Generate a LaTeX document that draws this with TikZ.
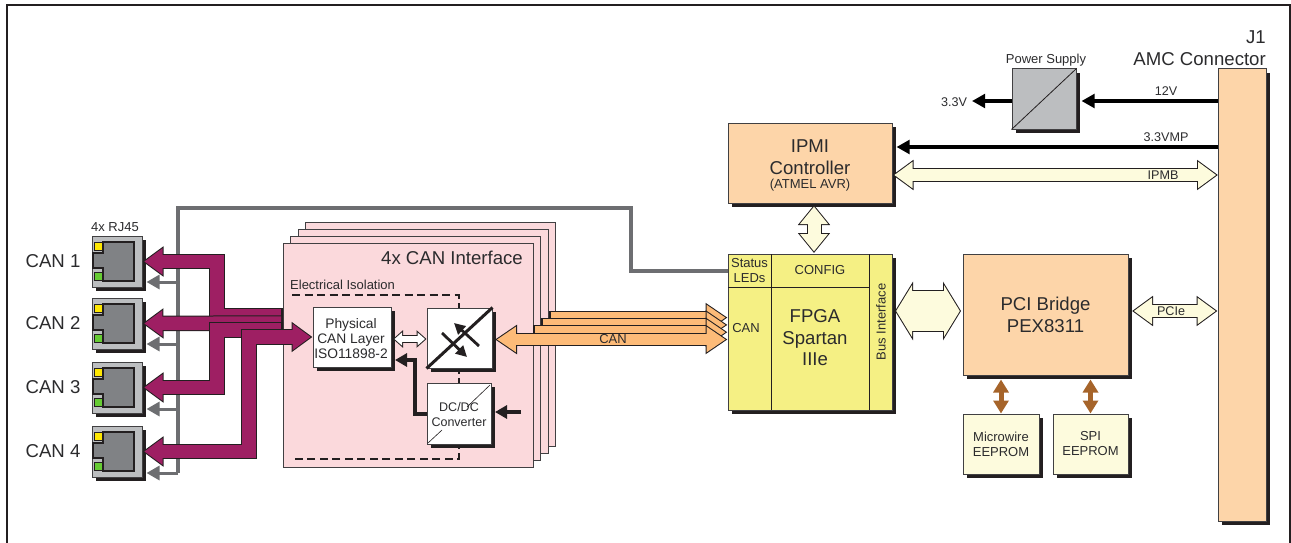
\documentclass[tikz,border=0pt]{standalone}
\usepackage{fontspec}
\setmainfont{Liberation Sans}
\usetikzlibrary{arrows.meta,shadows}

\definecolor{edgegray}{HTML}{414042}
\definecolor{inktext}{HTML}{2B2B2D}
\definecolor{shadowblack}{HTML}{231F20}
\definecolor{canplum}{HTML}{9E1F63}
\definecolor{canorange}{HTML}{FDBB78}
\definecolor{peach}{HTML}{FDD5A9}
\definecolor{cream}{HTML}{FDFBDD}
\definecolor{fpgayellow}{HTML}{F5F084}
\definecolor{cardpink}{HTML}{FBD9DC}
\definecolor{linegray}{HTML}{6D6E71}
\definecolor{jackgray}{HTML}{BCBEC0}
\definecolor{porthole}{HTML}{808285}
\definecolor{brownbus}{HTML}{A6642A}

\tikzset{
    box/.style={draw=edgegray,line width=1pt,text=inktext,align=center,inner sep=0pt,
        general shadow={fill=shadowblack,shadow xshift=4pt,shadow yshift=-4pt}},
    txt/.style={text=inktext,align=center,inner sep=0pt,font=\fontsize{13}{15}\selectfont},
    smalltxt/.style={txt,font=\fontsize{12.6}{15}\selectfont},
    bigtxt/.style={text=inktext,align=center,inner sep=0pt,font=\fontsize{18.6}{21.5}\selectfont},
    fat/.style n args={6}{
        preaction={draw=shadowblack,line width=#2pt+2pt,>={#3},arrows={#5},shorten <=0pt,shorten >=0pt},
        draw=#1,line width=#2pt,>={#4},arrows={#5},shorten <=#6pt,shorten >=#6pt},
    plumbus/.style={fat={canplum}{13.5}{Triangle[length=21pt,width=29pt]}{Triangle[length=18.2pt,width=25.2pt]}{#1}{1.8}},
    orangebus/.style={fat={canorange}{11.5}{Triangle[length=22pt,width=28pt]}{Triangle[length=19pt,width=24.2pt]}{#1}{1.9}},
    creambus/.style={fat={cream}{12}{Triangle[length=21pt,width=29pt]}{Triangle[length=18.2pt,width=25.2pt]}{#1}{1.8}},
    power/.style={draw=black,line width=4pt,-{Triangle[length=13pt,width=13.5pt]}},
    ledline/.style={draw=linegray,line width=3.5pt},
    brownlink/.style={draw=brownbus,line width=5pt,{Triangle[length=13pt,width=15pt]}-{Triangle[length=13pt,width=15pt]}}
}

\begin{document}
\begin{tikzpicture}[x=1pt,y=-1pt]
    \useasboundingbox (0,0) rectangle (1291,543);
    \draw[draw=shadowblack,line width=2pt] (7,543) -- (7,5) -- (1290,5) -- (1290,543);

    \foreach \n/\dx in {4/22.5,3/15,2/7.5,1/0} {
        \node[draw=edgegray,line width=1pt,fill=cardpink,minimum width=250pt,minimum height=224pt,inner sep=0pt] (card\n) at (408+\dx,355-0.93*\dx) {};
    }
    \node[bigtxt,anchor=east] (cardtitle) at (523,258) {4x CAN Interface};
    \node[txt,anchor=west] (isolabel) at (290,285) {Electrical Isolation};
    \draw[draw=shadowblack,line width=1.4pt,dash pattern=on 8pt off 4.5pt] (292,295) -- (459,295) -- (459,459) -- (295,459);

    \node[txt] (rjlabel) at (115,227) {4x RJ45};
    \foreach \n/\y in {1/261.5,2/323.5,3/387.5,4/451.5} {
        \node[draw=edgegray,line width=1pt,fill=jackgray,minimum width=50pt,minimum height=51pt,inner sep=0pt,
            general shadow={fill=shadowblack,shadow xshift=4pt,shadow yshift=-4pt}] (rj\n) at (117,\y) {};
        \node[bigtxt] (canname\n) at (53,\y) {CAN \n};
        \begin{scope}[shift={(0,\y)}]
            \draw[draw=shadowblack,line width=1.3pt,fill=porthole] (103,-19.5) -- (134,-19.5) -- (134,19.5) -- (103,19.5) -- (103,6.5) -- (93,6.5) -- (93,-8.5) -- (103,-8.5) -- cycle;
            \draw[draw=shadowblack,line width=.6pt,fill=yellow!90!orange] (94.5,-19.5) rectangle (102,-11.5);
            \draw[draw=shadowblack,line width=.6pt,fill=green!50!olive!80!white] (94.5,10.5) rectangle (102,18.5);
        \end{scope}
    }

    \node[box,fill=peach,minimum width=164pt,minimum height=80pt] (ipmi) at (810,163) {};
    \node[bigtxt] (ipmitext) at (810,157) {IPMI\\Controller};
    \node[txt] (ipmisub) at (810,185) {(ATMEL AVR)};

    \node[box,fill=fpgayellow,minimum width=164pt,minimum height=156pt] (fpga) at (810,332) {};
    \draw[draw=shadowblack,line width=.9pt] (771,254) -- (771,410);
    \draw[draw=shadowblack,line width=.9pt] (869,254) -- (869,410);
    \draw[draw=shadowblack,line width=.9pt] (728,287) -- (869,287);
    \node[txt] (statustext) at (749.5,270.5) {Status\\LEDs};
    \node[txt] (configtext) at (820,270.5) {CONFIG};
    \node[txt] (fpgacan) at (746,328) {CAN};
    \node[bigtxt] (fpgatext) at (815,338) {FPGA\\Spartan\\IIIe};
    \node[txt,rotate=90] (bustext) at (881,322) {Bus Interface};

    \node[box,fill=peach,minimum width=165pt,minimum height=121pt,font=\fontsize{18.6}{22}\selectfont] (pci) at (1045.5,314.5) {PCI Bridge\\PEX8311};
    \node[box,fill=cream,minimum width=76pt,minimum height=60pt,font=\fontsize{13}{15}\selectfont] (micro) at (1001,444) {Microwire\\EEPROM};
    \node[box,fill=cream,minimum width=75pt,minimum height=60pt,font=\fontsize{13}{15}\selectfont] (spi) at (1090.5,444) {SPI\\EEPROM};
    \node[box,fill=peach,minimum width=48pt,minimum height=452pt] (amc) at (1242,295) {};
    \node[bigtxt,align=right,anchor=south east] (amctext) at (1266,65.5) {J1\\AMC Connector};
    \node[box,fill=jackgray,minimum width=64pt,minimum height=60pt] (psu) at (1044,99) {};
    \draw[draw=shadowblack,line width=.8pt] (psu.south west) -- (psu.north east);
    \node[txt] (psutext) at (1046,60.5) {Power Supply};

    \node[box,fill=white,minimum width=78pt,minimum height=60pt] (phy) at (352,337) {};
    \node[txt,font=\fontsize{13.8}{15}\selectfont] (phytext) at (351,339) {Physical\\CAN Layer\\ISO11898-2};
    \node[box,fill=white,minimum width=65pt,minimum height=60pt] (iso) at (459.5,338) {};
    \draw[draw=shadowblack,line width=3pt] (iso.south west) -- (iso.north east);
    \coordinate (isoa) at (479,346);
    \coordinate (isob) at (454,323);
    \coordinate (isoc) at (442,333);
    \coordinate (isod) at (467,357);
    \draw[draw=shadowblack,line width=2.8pt,-{Triangle[length=11pt,width=11pt]}] (isoa) -- (isob);
    \draw[draw=shadowblack,line width=2.8pt,-{Triangle[length=11pt,width=11pt]}] (isoc) -- (isod);
    \node[box,fill=white,minimum width=64pt,minimum height=61pt] (dcdc) at (459,413.5) {};
    \draw[draw=shadowblack,line width=.6pt] (490,385) -- (467,407);
    \draw[draw=shadowblack,line width=.6pt] (428,443) -- (442,430);
    \node[txt,font=\fontsize{12.5}{15}\selectfont] (dcdctext) at (459,414.5) {DC/DC\\Converter};

    \coordinate (ledend) at (178,473);
    \draw[ledline] (fpga.west |- 0,271) -- (631,271) -- (631,208) -- (178,208) -- (ledend);
    \foreach \n/\y in {1/282,2/344,3/409,4/473} {
        \coordinate (led\n) at (178,\y);
        \draw[ledline,line width=3pt,shorten >=4pt,-{Triangle[length=13pt,width=14pt]}] (led\n) -- (rj\n.east |- led\n);
    }

    \coordinate (bunda) at (283,316);
    \coordinate (bundb) at (283,323);
    \coordinate (bundc) at (283,330);
    \draw[plumbus=<-] (rj1.east) -- (217,261.5) -- (217,316) -- (bunda);
    \draw[plumbus=<-] (rj2.east) -- (bundb);
    \draw[plumbus=<-] (rj3.east) -- (217,387.5) -- (217,330) -- (bundc);
    \draw[plumbus=<->] (rj4.east) -- (249,451.5) -- (249,337) -- (phy.west);

    \coordinate (orangea) at (549,317.6);
    \coordinate (orangeb) at (541,324.9);
    \coordinate (orangec) at (533,332.2);
    \coordinate (isotip) at (495,339.5);
    \draw[orangebus=->] (orangea) -- (fpga.west |- orangea);
    \draw[orangebus=->] (orangeb) -- (fpga.west |- orangeb);
    \draw[orangebus=->] (orangec) -- (fpga.west |- orangec);
    \draw[orangebus=<->] (isotip) -- (fpga.west |- isotip);
    \node[txt] (canbuslabel) at (613,339.5) {CAN};

    \draw[fat={white}{6}{Triangle[length=10pt,width=17pt]}{Triangle[length=7.5pt,width=12.7pt]}{<->}{1.5}] (393,339) -- (iso.west |- 0,339);
    \coordinate (dcin) at (459,414);
    \draw[draw=shadowblack,line width=3.5pt,-{Triangle[length=12pt,width=13pt]}] (dcdc.west |- dcin) -- (415,414) -- (415,360) -- (395,360);
    \coordinate (dcsrc) at (521,412);
    \draw[draw=shadowblack,line width=3.5pt,-{Triangle[length=12pt,width=13pt]}] (dcsrc) -- (495,412);

    \coordinate (twelve) at (1218,101);
    \coordinate (mp) at (1218,147);
    \coordinate (ipmb) at (1218,175);
    \draw[power,shorten >=5pt] (twelve) -- (psu.east |- twelve);
    \node[smalltxt] (twelvetext) at (1166,91) {12V};
    \coordinate (threeout) at (972,101);
    \draw[power] (psu.west |- twelve) -- (threeout);
    \node[smalltxt] (threetext) at (954,102) {3.3V};
    \draw[power,shorten >=4pt] (mp) -- (ipmi.east |- mp);
    \node[smalltxt] (mptext) at (1166,137) {3.3VMP};
    \draw[creambus=<->] (ipmi.east |- ipmb) -- (ipmb);
    \node[smalltxt] (ipmbtext) at (1163,175) {IPMB};

    \coordinate (cfg) at (814,253);
    \draw[fat={cream}{13}{Triangle[length=20pt,width=31pt]}{Triangle[length=17.4pt,width=27pt]}{<->}{1.6}] (814,205) -- (cfg);
    \coordinate (busa) at (895,311);
    \coordinate (busb) at (961,311);
    \draw[fat={cream}{40}{Triangle[length=18pt,width=58pt]}{Triangle[length=15.8pt,width=50.9pt]}{<->}{1.2}] (busa) -- (busb);
    \coordinate (pcie) at (1132,311);
    \draw[creambus=<->] (pcie) -- (amc.west |- pcie);
    \node[smalltxt] (pcietext) at (1171,311) {PCIe};

    \draw[brownlink,shorten <=4pt] (micro.north |- pci.south) -- (micro.north);
    \draw[brownlink,shorten <=4pt] (spi.north |- pci.south) -- (spi.north);
\end{tikzpicture}
\end{document}
